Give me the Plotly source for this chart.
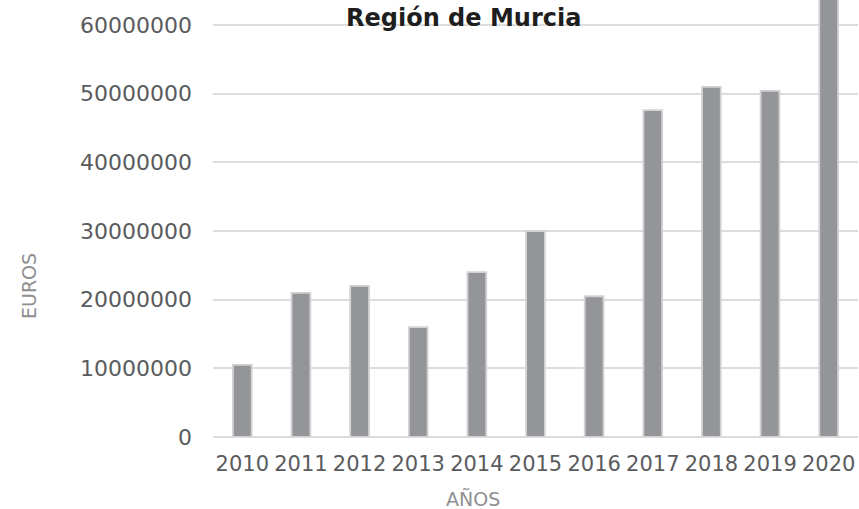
import plotly.graph_objects as go

years = ["2010", "2011", "2012", "2013", "2014", "2015", "2016", "2017", "2018", "2019", "2020"]
euros = [10500000, 21000000, 22000000, 16000000, 24000000, 30000000, 20500000, 47600000, 51000000, 50400000, 68000000]
tick_values = [0, 10000000, 20000000, 30000000, 40000000, 50000000, 60000000]
tick_labels = ["0", "10000000", "20000000", "30000000", "40000000", "50000000", "60000000"]

FONT = "DejaVu Sans"
TXT = "#5a5b5d"

W, H = 859, 509
L, R, T, B = 213, 1, 0, 72
pw, ph = W - L - R, H - T - B


def px(x):
    return (x - L) / pw


def py(y_from_top):
    return (H - y_from_top - B) / ph


fig = go.Figure(go.Bar(
    x=years, y=euros,
    marker=dict(color="#939598", line=dict(color="#d2d2d4", width=1.8)),
    width=0.32,
))

fig.update_layout(
    width=W, height=H,
    margin=dict(l=L, r=R, t=T, b=B, autoexpand=False),
    plot_bgcolor="white", paper_bgcolor="white",
    showlegend=False,
    font=dict(family=FONT, color=TXT, size=21),
    xaxis=dict(showgrid=False, showline=False, ticks="", ticklabelstandoff=12,
               automargin=False,
               tickfont=dict(size=21, color=TXT, family=FONT)),
    yaxis=dict(range=[0, 63640000], tickvals=tick_values, ticktext=tick_labels,
               automargin=False,
               showgrid=True, gridcolor="#dcdcdc", gridwidth=1.5,
               zeroline=True, zerolinecolor="#dcdcdc", zerolinewidth=1.5,
               showline=False, ticks="", ticklabelstandoff=20,
               tickfont=dict(size=22, color=TXT, family=FONT)),
    annotations=[
        dict(text="<b>Región de Murcia</b>", x=px(463), y=py(18), xref="paper", yref="paper",
             showarrow=False, font=dict(size=24, color="#1e1e1e", family=FONT),
             xanchor="center", yanchor="middle"),
        dict(text="AÑOS", x=px(473), y=py(499), xref="paper", yref="paper",
             showarrow=False, font=dict(size=19, color="#8e8f91", family=FONT),
             xanchor="center", yanchor="middle"),
        dict(text="EUROS", x=px(29), y=py(286), xref="paper", yref="paper",
             showarrow=False, textangle=-90, font=dict(size=19, color="#8e8f91", family=FONT),
             xanchor="center", yanchor="middle"),
    ],
)

fig.write_html("out.html", config={"displayModeBar": False},
               post_script="document.body.style.margin='0';")
